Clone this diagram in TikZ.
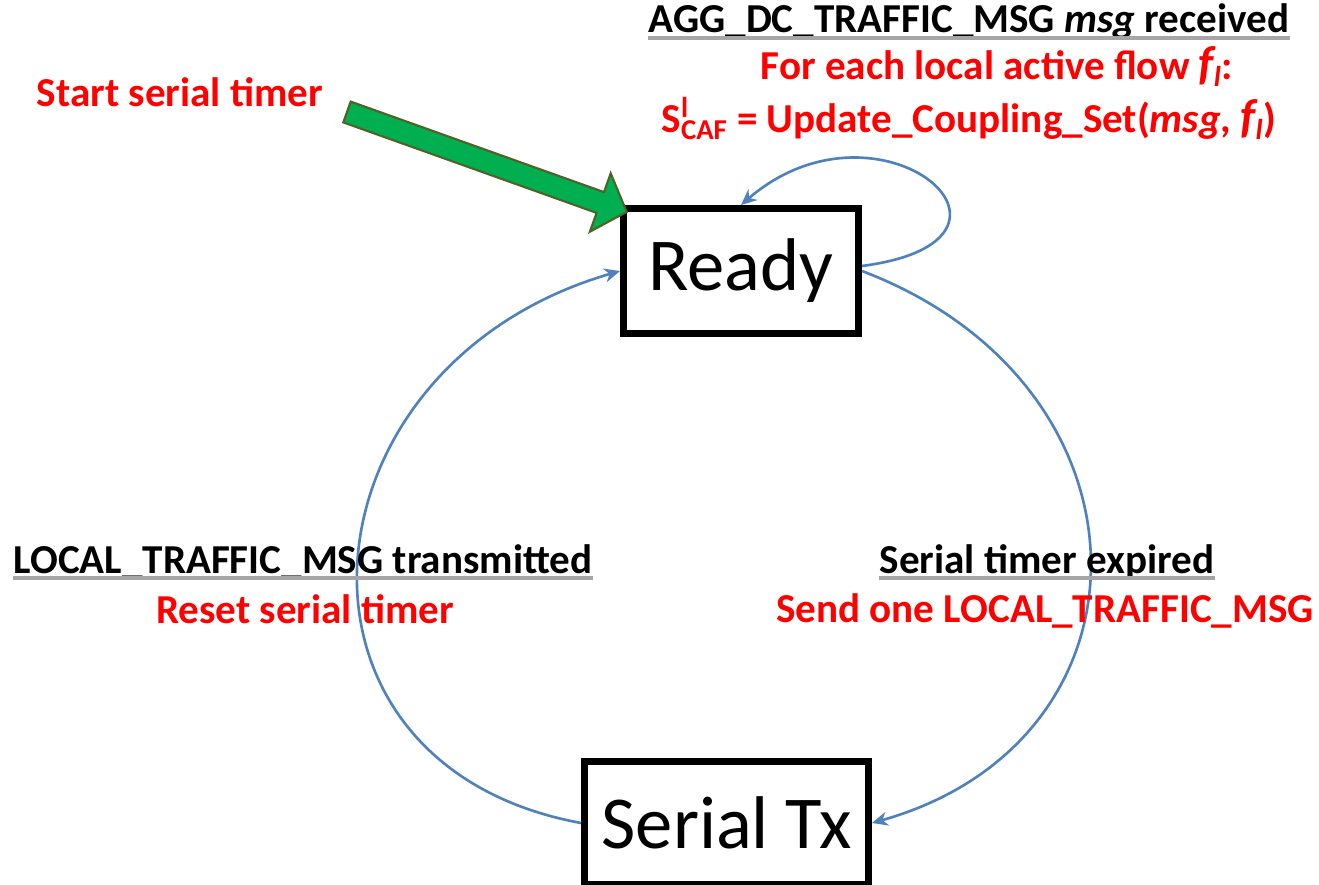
\documentclass[tikz,border=0pt]{standalone}
\usepackage{fontspec}
\setmainfont{Carlito}
\usetikzlibrary{arrows.meta}
\definecolor{lineblue}{HTML}{4F81BD}
\definecolor{arrowgreen}{HTML}{00B050}
\definecolor{arrowedge}{HTML}{4F6228}
\definecolor{ulgray}{HTML}{A6A6A6}
\begin{document}
\begin{tikzpicture}[x=0.02cm,y=-0.02cm,
  state/.style={draw=black, line width=4pt, fill=white, inner sep=0pt, font=\fontsize{42.5}{50}\selectfont},
  lbl/.style={anchor=base, inner sep=0pt, font=\fontsize{23.4}{26}\selectfont\bfseries},
  cond/.style={lbl, text=black},
  act/.style={lbl, text=red},
  trans/.style={draw=lineblue, line width=1.5pt, -{Stealth[length=9pt,width=8pt]}},
  ul/.style={draw=ulgray, line width=2.5pt},
  blockarrow/.style={draw=arrowedge, line width=1.2pt, fill=arrowgreen, line join=miter}]
\useasboundingbox (0,0) rectangle (1319,885);

% states
\node[state, minimum width=4.7cm, minimum height=2.5cm] (ready) at (741,271) {Ready};
\node[state, minimum width=5.68cm, minimum height=2.46cm] (sertx) at (726.5,823) {Serial Tx};

% transitions
\draw[trans] ([yshift=0.1cm]ready.east) .. controls (1060,240) and (880,85) .. (ready.north);
\draw[trans] (ready.east) .. controls (1164,386) and (1164,741) .. (sertx.east);
\draw[trans] (sertx.west) .. controls (261,764) and (295,365) .. (ready.west);

% initial block arrow
\coordinate (gtip) at (626.7,211.9);
\draw[blockarrow] (350.7,101.6) -- (604.0,192.1) -- (610.7,173.3) -- (gtip)
  -- (589.9,231.7) -- (596.6,212.9) -- (343.3,122.4) -- cycle;

% labels
\node[act] (start) at (180,107) {Start serial timer};

\node[cond] (aggc) at (969,33) {AGG\_DC\_TRAFFIC\_MSG \textit{msg} received};
\draw[ul] ([yshift=-3pt]aggc.base west) -- ([yshift=-3pt]aggc.base east);
\node[act] (agga1) at (997,80) {For each local active flow {\fontsize{27}{28}\selectfont\itshape f}\textsubscript{\itshape l}:};
\node[act] (agga2) at (969,133) {S\rlap{\textsuperscript{l}}\textsubscript{CAF} = Update\_Coupling\_Set(\textit{msg}, {\fontsize{27}{28}\selectfont\itshape f}\textsubscript{\itshape l})};

\node[cond] (locc) at (303,573) {LOCAL\_TRAFFIC\_MSG transmitted};
\draw[ul] ([yshift=-3pt]locc.base west) -- ([yshift=-3pt]locc.base east);
\node[act] (loca) at (305,623) {Reset serial timer};

\node[cond] (serc) at (1047,573) {Serial timer expired};
\draw[ul] ([yshift=-3pt]serc.base west) -- ([yshift=-3pt]serc.base east);
\node[act] (sera) at (1045,622) {Send one LOCAL\_TRAFFIC\_MSG};
\end{tikzpicture}
\end{document}
